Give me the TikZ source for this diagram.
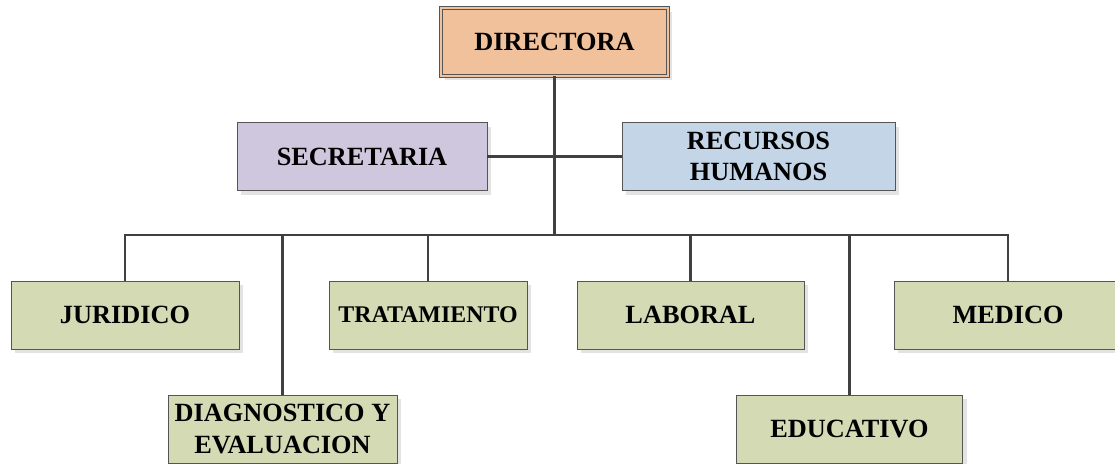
\documentclass[tikz,border=0pt]{standalone}
\usepackage{fontspec}
\setmainfont{Liberation Serif}
\usetikzlibrary{shadows}
\definecolor{peach}{HTML}{F1C19B}
\definecolor{lilac}{HTML}{CFC7DD}
\definecolor{skyblue}{HTML}{C3D5E6}
\definecolor{olive}{HTML}{D3DAB4}
\definecolor{boxline}{HTML}{555555}
\definecolor{wire}{HTML}{404040}
\begin{document}
\begin{tikzpicture}[x=0.025cm,y=-0.025cm,
			main node/.style = {rectangle, draw=boxline, line width=0.6pt, minimum height=1.7cm,
				inner sep=0pt, align=center, font=\fontsize{18.7}{22.5}\selectfont\bfseries,
				drop shadow={shadow xshift=0.1cm, shadow yshift=-0.1cm, fill=black!11, opacity=1}},
			link/.style = {draw=wire, line width=1.5pt}]
			
			\useasboundingbox (0,0) rectangle (1115,463);
			
			\node[main node,fill=peach,minimum width=5.675cm,double=peach,double distance=1.8pt] at (554.5,42) (1) {DIRECTORA};
			\node[main node,fill=lilac,minimum width=6.25cm] at (362,156.5) (2) {SECRETARIA};
			\node[main node,fill=skyblue,minimum width=6.825cm] at (758.5,156.5) (3) {RECURSOS\\HUMANOS};
			\node[main node,fill=olive,minimum width=5.7cm] at (125,315) (4) {JURIDICO};
			\node[main node,fill=olive,minimum width=5.725cm] at (282.5,429) (5) {DIAGNOSTICO Y\\EVALUACION};
			\node[main node,fill=olive,minimum width=4.95cm,font=\fontsize{17}{20}\selectfont\bfseries] at (428,315) (6) {TRATAMIENTO};
			\node[main node,fill=olive,minimum width=5.675cm] at (690.5,315) (7) {LABORAL};
			\node[main node,fill=olive,minimum width=5.65cm] at (849.5,429) (8) {EDUCATIVO};
			\node[main node,fill=olive,minimum width=5.7cm] at (1008,315) (9) {MEDICO};
			
			\coordinate (b) at (554.5,235);
			
			\path[link] (1.south) -- (b);
			\path[link] (2.east) -- (3.west);
			\path[link] (b) -| (4.north);
			\path[link] (b) -| (5.north);
			\path[link] (b) -| (6.north);
			\path[link] (b) -| (7.north);
			\path[link] (b) -| (8.north);
			\path[link] (b) -| (9.north);
			
			\end{tikzpicture}
\end{document}
